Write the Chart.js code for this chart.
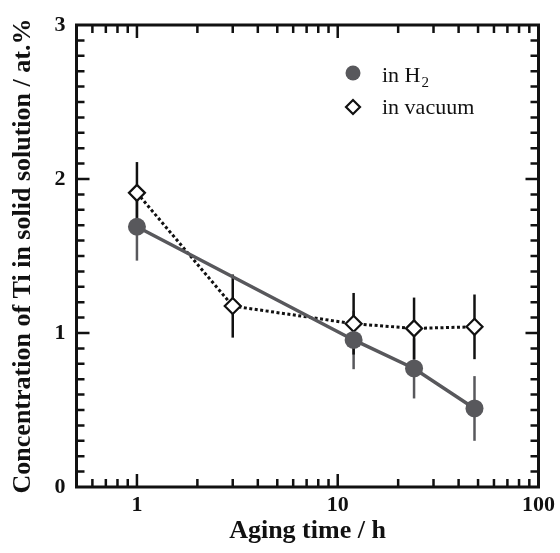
<!DOCTYPE html>
<html>
<head>
<meta charset="utf-8">
<script src="https://cdn.jsdelivr.net/npm/chart.js@4.4.1/dist/chart.umd.min.js"></script>
<style>
  html, body { margin: 0; padding: 0; background: #fff; }
  #wrap { width: 560px; height: 553px; }
</style>
</head>
<body>
<div id="wrap"><canvas id="chart" width="560" height="553"></canvas></div>
<script>
const SERIF = '"Liberation Serif", "Times New Roman", serif';

// --- Data ---
const hoursH2 = [1, 12, 24, 48];
const concH2 = [1.69, 0.955, 0.77, 0.51];
const errH2 = [0.22, 0.19, 0.195, 0.21];

const hoursVac = [1, 3, 12, 24, 48];
const concVac = [1.91, 1.175, 1.06, 1.03, 1.04];
const errVac = [0.2, 0.205, 0.2, 0.2, 0.21];

const xTickLabels = [1, 10, 100];
const yTickLabels = [0, 1, 2, 3];

const GRAY = '#58585c';
const INK = '#111';

const toPoints = (xs, ys) => xs.map((x, i) => ({ x: x, y: ys[i] }));

// --- Error bars, drawn under the markers ---
const errorBars = {
    id: 'errorBars',
    beforeDatasetsDraw(chart) {
        const ctx = chart.ctx;
        const yScale = chart.scales.y;
        chart.data.datasets.forEach((ds, di) => {
            const meta = chart.getDatasetMeta(di);
            ctx.save();
            ctx.strokeStyle = ds.errorColor;
            ctx.lineWidth = 2.5;
            meta.data.forEach((pt, i) => {
                const v = ds.data[i].y, e = ds.errors[i];
                ctx.beginPath();
                ctx.moveTo(pt.x, yScale.getPixelForValue(v - e));
                ctx.lineTo(pt.x, yScale.getPixelForValue(v + e));
                ctx.stroke();
            });
            ctx.restore();
        });
    }
};

// --- Box frame with inward ticks on all four sides ---
const frame = {
    id: 'frame',
    afterDraw(chart) {
        const { ctx, chartArea: a, scales: { x, y } } = chart;
        ctx.save();
        ctx.strokeStyle = INK;
        ctx.lineWidth = 2.5;
        ctx.beginPath();
        // x: decades plus 2..9 minors
        for (let e = -1; e <= 1; e++) {
            for (let k = 1; k <= 9; k++) {
                const v = k * Math.pow(10, e);
                if (v <= x.min || v >= x.max) continue;
                const len = xTickLabels.includes(v) ? 13 : 8;
                const px = x.getPixelForValue(v);
                ctx.moveTo(px, a.bottom); ctx.lineTo(px, a.bottom - len);
                ctx.moveTo(px, a.top); ctx.lineTo(px, a.top + len);
            }
        }
        // y: every 0.1, major every 1
        for (let i = 1; i < 30; i++) {
            const len = i % 10 === 0 ? 13 : 8;
            const py = y.getPixelForValue(i / 10);
            ctx.moveTo(a.left, py); ctx.lineTo(a.left + len, py);
            ctx.moveTo(a.right, py); ctx.lineTo(a.right - len, py);
        }
        ctx.stroke();
        ctx.lineWidth = 3;
        ctx.strokeRect(a.left, a.top, a.right - a.left, a.bottom - a.top);
        ctx.restore();
    }
};

// --- Legend in the upper right of the plot ---
const legendBox = {
    id: 'legendBox',
    afterDraw(chart) {
        const { ctx, chartArea: a } = chart;
        const mx = a.left + 276.5, tx = a.left + 305.5;
        const rows = [a.top + 48, a.top + 82];
        ctx.save();
        // filled circle
        ctx.fillStyle = GRAY;
        ctx.beginPath();
        ctx.arc(mx, rows[0], 7.5, 0, Math.PI * 2);
        ctx.fill();
        // open diamond
        ctx.fillStyle = '#fff';
        ctx.strokeStyle = INK;
        ctx.lineWidth = 2.2;
        const r = 7;
        ctx.beginPath();
        ctx.moveTo(mx - r, rows[1]); ctx.lineTo(mx, rows[1] - r);
        ctx.lineTo(mx + r, rows[1]); ctx.lineTo(mx, rows[1] + r);
        ctx.closePath();
        ctx.fill(); ctx.stroke();

        ctx.fillStyle = INK;
        ctx.textBaseline = 'alphabetic';
        ctx.font = '22px ' + SERIF;
        ctx.fillText('in H', tx, rows[0] + 9);
        const w = ctx.measureText('in H').width;
        ctx.font = '15px ' + SERIF;
        ctx.fillText('2', tx + w + 1, rows[0] + 14);
        ctx.font = '22px ' + SERIF;
        ctx.fillText('in vacuum', tx, rows[1] + 7);
        ctx.restore();
    }
};

const tickFont = { family: SERIF, size: 22, weight: 'bold' };
const titleFont = { family: SERIF, size: 26, weight: 'bold' };

new Chart(document.getElementById('chart'), {
    type: 'line',
    data: {
        datasets: [
            {
                label: 'in H2',
                data: toPoints(hoursH2, concH2),
                errors: errH2,
                errorColor: GRAY,
                borderColor: GRAY,
                borderWidth: 3.5,
                pointStyle: 'circle',
                pointRadius: 9,
                pointBackgroundColor: GRAY,
                pointBorderWidth: 0,
                tension: 0
            },
            {
                label: 'in vacuum',
                data: toPoints(hoursVac, concVac),
                errors: errVac,
                errorColor: INK,
                borderColor: INK,
                borderWidth: 3,
                borderDash: [3, 2.5],
                pointStyle: 'rectRot',
                pointRadius: 8,
                pointBackgroundColor: '#fff',
                pointBorderColor: INK,
                pointBorderWidth: 2.2,
                tension: 0
            }
        ]
    },
    options: {
        responsive: false,
        animation: false,
        layout: { padding: { top: 25, right: 21.5, left: 0, bottom: 0 } },
        plugins: { legend: { display: false }, tooltip: { enabled: false } },
        scales: {
            x: {
                type: 'logarithmic',
                min: 0.5,
                max: 100,
                bounds: 'data',
                afterBuildTicks: s => { s.ticks = xTickLabels.map(v => ({ value: v })); },
                afterFit: s => { s.height = 66; },
                grid: { display: false, drawTicks: false },
                border: { display: false },
                ticks: { color: INK, padding: 5, font: tickFont, autoSkip: false, maxRotation: 0, callback: v => String(v) },
                title: { display: true, text: 'Aging time / h', color: INK, font: titleFont, padding: { top: 0, bottom: 6 } }
            },
            y: {
                type: 'linear',
                min: 0,
                max: 3,
                afterBuildTicks: s => { s.ticks = yTickLabels.map(v => ({ value: v })); },
                afterFit: s => { s.width = 76.5; },
                grid: { display: false, drawTicks: false },
                border: { display: false },
                ticks: { color: INK, padding: 11, font: tickFont, callback: v => String(v) },
                title: { display: true, text: 'Concentration of Ti in solid solution / at.%', color: INK, font: titleFont, padding: { top: 8, bottom: 0 } }
            }
        }
    },
    plugins: [errorBars, frame, legendBox]
});
</script>
</body>
</html>
